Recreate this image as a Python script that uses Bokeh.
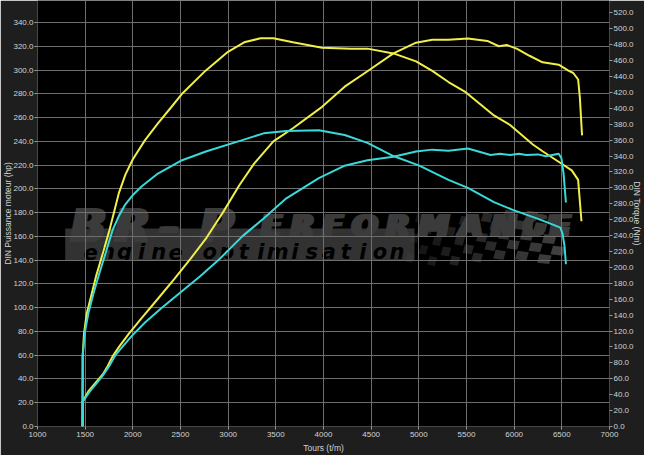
import numpy as np
from bokeh.plotting import figure
from bokeh.models import (Range1d, LinearAxis, SingleIntervalTicker,
                          NumeralTickFormatter, ColumnDataSource)
from bokeh.embed import file_html
from bokeh.resources import INLINE
from bokeh.core.properties import value, field

# ---------------- data ----------------
tuned_power_rpm = [1474, 1475, 1533, 1617, 1686, 1737, 1788, 1855, 1957, 2094, 2263, 2434,
                   2604, 2774, 2944, 3117, 3270, 3474, 3679, 3985, 4222, 4461, 4733, 4971,
                   5141, 5311, 5515, 5719, 5839, 5923, 6026, 6161, 6298, 6467, 6569, 6620,
                   6671, 6689, 6712]
tuned_power_hp = [0, 21, 29.5, 37.5, 44, 51, 59, 67, 78, 91.5, 107.5, 124,
                  141, 159, 180, 203, 221, 240, 251, 269, 286, 299, 314, 323,
                  325.5, 325.5, 326.5, 324.5, 320, 321, 318, 312, 306.5, 304.5, 299.5, 297.5,
                  292, 277, 245]

tuned_torque_rpm = [1472, 1474, 1488, 1515, 1566, 1617, 1686, 1753, 1804, 1855, 1923, 2000,
                    2128, 2263, 2400, 2522, 2760, 2998, 3168, 3339, 3474, 3679, 3985, 4291,
                    4461, 4733, 4971, 5141, 5311, 5482, 5788, 5957, 6196, 6298, 6502, 6604,
                    6671, 6706]
tuned_torque_nm = [0, 89, 117, 141, 165.5, 190, 218, 246, 270, 294, 317, 336,
                   360, 381, 401, 419, 447, 471, 483, 488, 488, 483, 476, 475,
                   475, 469, 459, 447, 433, 421, 391, 379, 354.5, 346, 330, 322,
                   310, 258]

stock_power_rpm = [1474, 1475, 1549, 1617, 1686, 1753, 1821, 1890, 1992, 2128, 2298, 2502,
                   2706, 2910, 3148, 3372, 3610, 3951, 4222, 4461, 4733, 4971, 5141, 5311,
                   5515, 5753, 5850, 5957, 6050, 6127, 6250, 6332, 6467, 6495, 6518, 6543]
stock_power_hp = [0, 21, 29.5, 36, 43, 51, 60.5, 67, 76.5, 87.5, 99.5, 113,
                  126.5, 141, 160, 175, 192, 209, 219.5, 224, 227, 231.5, 233, 232,
                  234, 228.5, 229.5, 228.5, 229.5, 228.5, 229, 227.5, 229.5, 226, 213, 188.5]

stock_torque_rpm = [1472, 1474, 1498, 1533, 1584, 1635, 1686, 1737, 1788, 1855, 1920, 2000,
                    2094, 2263, 2502, 2774, 3148, 3372, 3610, 3951, 4222, 4461, 4733, 5005,
                    5311, 5515, 5788, 5992, 6230, 6400, 6485, 6508, 6529, 6543]
stock_torque_nm = [0, 89, 119, 142, 166, 187, 207, 227, 247, 265, 279, 291,
                   302, 318, 334, 346, 360, 368.5, 371.5, 372.5, 366.5, 356.5, 340, 328,
                   310, 300, 282, 272, 262, 254, 250, 242, 226, 204]

x_range = (1000, 7000)
hp_range = (0, 358.5)
nm_range = (0, 535.5)
x_tick_step = 500
y_tick_step = 20

x_title = "Tours (t/m)"
left_title = "DIN Puissance moteur (hp)"
right_title = "DIN Torque (Nm)"
wm_title = "BR-PERFORMANCE"
wm_sub = "engine optimisation"

YEL = "#f0ee48"
CYA = "#3ad8d8"
GRID = "#6e6e6e"
TXT = "#d2d2d2"
PANEL = "#1e1e1e"
WM = "#3b3b3b"

# ---------------- figure ----------------
W, H = 644, 455
BL, BR, BB, BT = 36, 33, 27, 0

p = figure(width=W, height=H, x_range=Range1d(*x_range), y_range=Range1d(*hp_range),
           output_backend="svg", toolbar_location=None,
           min_border_left=BL, min_border_right=BR, min_border_bottom=BB, min_border_top=BT,
           background_fill_color="black", border_fill_color=PANEL,
           outline_line_color=None)

p.extra_y_ranges = {"nm": Range1d(*nm_range)}
raxis = LinearAxis(y_range_name="nm")
p.add_layout(raxis, "right")

p.xaxis.ticker = SingleIntervalTicker(interval=x_tick_step, num_minor_ticks=0)
for ax in p.yaxis:
    ax.ticker = SingleIntervalTicker(interval=y_tick_step, num_minor_ticks=0)
    ax.formatter = NumeralTickFormatter(format="0.0")
    ax.major_label_standoff = 1
for ax in p.axis:
    ax.major_label_text_font = "Liberation Sans"
    ax.major_label_text_font_size = "8px"
    ax.major_label_text_color = TXT
    ax.axis_line_color = None
    ax.major_tick_line_color = "#9a9a9a"
    ax.major_tick_in = 0
    ax.minor_tick_line_color = None
    ax.axis_label_text_font = "Liberation Sans"
    ax.axis_label_text_font_size = "8.5px"
    ax.axis_label_text_font_style = "normal"
    ax.axis_label_text_color = TXT
p.xaxis.major_tick_out = 3
p.xaxis.major_label_standoff = 2
p.xaxis.axis_label_standoff = 3
p.yaxis[0].major_tick_out = 3
p.yaxis[0].axis_label_standoff = -3
raxis.major_tick_out = 3
raxis.axis_label_standoff = -5

p.xaxis.axis_label = x_title
p.yaxis[0].axis_label = left_title
raxis.axis_label = right_title

p.xgrid.grid_line_color = GRID
p.ygrid.grid_line_color = GRID
p.xgrid.ticker = p.xaxis[0].ticker
p.ygrid.ticker = p.yaxis[0].ticker

# ---------------- watermark (decoration, reference-pixel placement) ----------------
def rx(px):
    return x_range[0] + (np.asarray(px, dtype=float) - 37.5) * 500.0 / 49.0

def hy(py):
    return (443.0 - np.asarray(py, dtype=float)) * 20.0 / 24.72

p.quad(left=rx(66), right=rx(425), top=hy(237), bottom=hy(270),
       fill_color="#323232", line_color=None, level="image")

fx, fy, fa = [], [], []
for c in range(14):
    for r in range(5):
        if (c + r) % 2:
            continue
        s = 7 + c * 0.45
        x0 = 428 + c * 11.3 - r * 2.5
        y0 = 221 + r * 10.4 + 3.5 * np.sin(c * 0.55)
        xs = [x0, x0 + s, x0 + s - 2.5, x0 - 2.5]
        ys = [y0, y0 + 1.5, y0 + 10.4, y0 + 8.9]
        fx.append(list(rx(xs)))
        fy.append(list(hy(ys)))
        fa.append(0.25 + 0.6 * c / 13)
p.patches(xs=fx, ys=fy, fill_color="#4a4a4a", fill_alpha=fa, line_color=None, level="image")

big_x = [90, 135, 173, 222, 278, 310, 341, 374, 408, 445, 483, 517, 548, 575]
big_size = ["46px"] * 4 + ["30px"] * 10
for off in (-2.5, 0, 2.5):
    wm_src = ColumnDataSource(dict(x=rx(np.array(big_x) + off), y=hy([234] * len(wm_title)),
                                   t=list(wm_title), s=big_size))
    p.text(x="x", y="y", text="t", text_font_size=field("s"), source=wm_src,
           text_font=value("DejaVu Sans"), text_font_style="bold italic",
           text_color=WM, text_align="center", text_baseline="alphabetic", level="image")

sub_x = 92 + 17.5 * np.arange(len(wm_sub))
sub_src = ColumnDataSource(dict(x=rx(sub_x), y=hy([261] * len(wm_sub)), t=list(wm_sub)))
p.text(x="x", y="y", text="t", text_font_size="21px", source=sub_src,
       text_font=value("DejaVu Sans"), text_font_style="bold italic",
       text_color="black", text_align="center", text_baseline="alphabetic", level="image")

# ---------------- curves ----------------
p.line(tuned_torque_rpm, tuned_torque_nm, y_range_name="nm", line_color=YEL, line_width=2)
p.line(tuned_power_rpm, tuned_power_hp, line_color=YEL, line_width=2)
p.line(stock_torque_rpm, stock_torque_nm, y_range_name="nm", line_color=CYA, line_width=2)
p.line(stock_power_rpm, stock_power_hp, line_color=CYA, line_width=2)

open("out.html", "w").write(file_html(p, INLINE))
